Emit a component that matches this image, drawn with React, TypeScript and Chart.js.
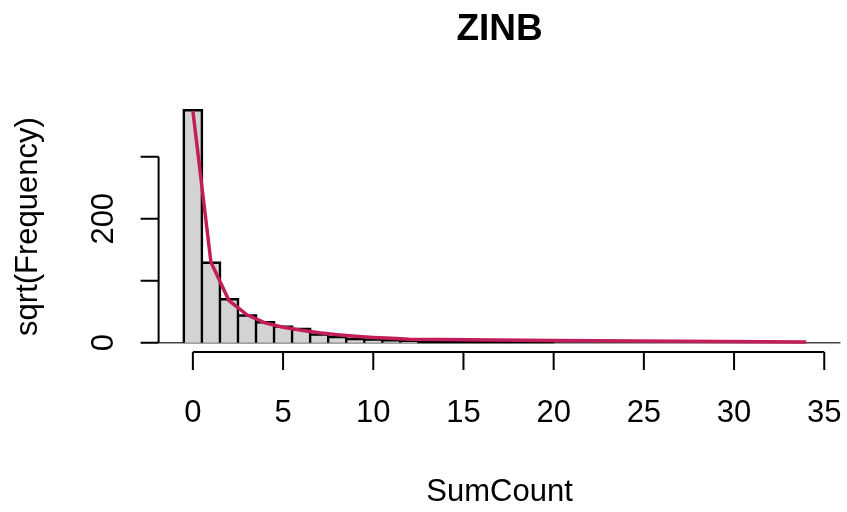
import React, { useEffect, useRef } from 'react';
import { Chart, registerables } from 'chart.js';

Chart.register(...registerables);

// Histogram bins of sqrt(frequency): edges and heights
const binEdges = [-0.5, 0.5, 1.5, 2.5, 3.5, 4.5, 5.5, 6.5, 7.5, 8.5, 9.5, 10.5, 11.5, 12.5, 20];
const binHeights = [375, 129, 70, 44, 33, 26, 22, 13, 9, 6, 5, 4, 3, 1];

// Fitted ZINB curve (sqrt scale)
const fitX = [0, 1, 2, 3, 4, 5, 6, 7, 8, 9, 10, 11, 12, 20, 34];
const fitY = [374, 130, 68, 45, 32, 25, 20, 16, 13, 10.5, 8.5, 7, 5.5, 3.5, 1];

// Axis ticks
const xTicks = [0, 5, 10, 15, 20, 25, 30, 35];
const yTicks = [0, 100, 200, 300];
const yTickLabels = ['0', '', '200', ''];

const mainTitle = 'ZINB';
const xTitle = 'SumCount';
const yTitle = 'sqrt(Frequency)';

const FONT = '"Liberation Sans", Arial, Helvetica, sans-serif';

function histOutline() {
  const pts: { x: number; y: number }[] = [];
  binHeights.forEach((h, i) => {
    const l = binEdges[i];
    const r = binEdges[i + 1];
    pts.push({ x: l, y: 0 }, { x: l, y: h }, { x: r, y: h }, { x: r, y: 0 });
  });
  return pts;
}

const baseAxes = {
  id: 'baseAxes',
  beforeDatasetsDraw(chart: any) {
    const { ctx, chartArea, scales } = chart;
    const y0 = scales.y.getPixelForValue(0);
    ctx.save();
    ctx.strokeStyle = '#444';
    ctx.lineWidth = 1.5;
    ctx.beginPath();
    ctx.moveTo(chartArea.left, y0);
    ctx.lineTo(chartArea.right, y0);
    ctx.stroke();
    ctx.restore();
  },
  afterDraw(chart: any) {
    const { ctx, chartArea, scales } = chart;
    const xs = scales.x;
    const ys = scales.y;
    const tick = 18;
    ctx.save();
    ctx.strokeStyle = '#000';
    ctx.fillStyle = '#000';
    ctx.lineWidth = 2;

    // x axis
    const ax = chartArea.bottom;
    ctx.beginPath();
    ctx.moveTo(xs.getPixelForValue(xTicks[0]), ax);
    ctx.lineTo(xs.getPixelForValue(xTicks[xTicks.length - 1]), ax);
    xTicks.forEach((t) => {
      const px = xs.getPixelForValue(t);
      ctx.moveTo(px, ax);
      ctx.lineTo(px, ax + tick);
    });
    ctx.stroke();
    ctx.font = `31px ${FONT}`;
    ctx.textAlign = 'center';
    ctx.textBaseline = 'alphabetic';
    xTicks.forEach((t) => {
      ctx.fillText(String(t), xs.getPixelForValue(t), 422);
    });

    // y axis
    const ay = chartArea.left;
    ctx.beginPath();
    ctx.moveTo(ay, ys.getPixelForValue(yTicks[0]));
    ctx.lineTo(ay, ys.getPixelForValue(yTicks[yTicks.length - 1]));
    yTicks.forEach((t) => {
      const py = ys.getPixelForValue(t);
      ctx.moveTo(ay, py);
      ctx.lineTo(ay - tick, py);
    });
    ctx.stroke();
    yTicks.forEach((t, i) => {
      const lab = yTickLabels[i];
      if (!lab) return;
      ctx.save();
      ctx.translate(113, ys.getPixelForValue(t));
      ctx.rotate(-Math.PI / 2);
      ctx.fillText(lab, 0, 0);
      ctx.restore();
    });

    // axis titles
    const cx = (chartArea.left + chartArea.right) / 2;
    const cy = (chartArea.top + chartArea.bottom) / 2;
    ctx.fillText(xTitle, cx, 501);
    ctx.save();
    ctx.translate(37, cy);
    ctx.rotate(-Math.PI / 2);
    ctx.fillText(yTitle, 0, 0);
    ctx.restore();

    // main title
    ctx.font = `bold 37px ${FONT}`;
    ctx.fillText(mainTitle, cx, 40);
    ctx.restore();
  },
};

export default function App() {
  const ref = useRef<HTMLCanvasElement | null>(null);

  useEffect(() => {
    if (!ref.current) return;
    const chart = new Chart(ref.current, {
      type: 'scatter',
      data: {
        datasets: [
          {
            label: 'fitted',
            data: fitX.map((x, i) => ({ x, y: fitY[i] })),
            showLine: true,
            borderColor: '#C41E5A',
            borderWidth: 3.5,
            pointRadius: 0,
            fill: false,
            order: 1,
          },
          {
            label: 'observed',
            data: histOutline(),
            showLine: true,
            borderColor: '#000',
            borderWidth: 2.4,
            backgroundColor: '#D3D3D3',
            pointRadius: 0,
            fill: 'origin',
            order: 2,
          },
        ],
      },
      options: {
        responsive: false,
        animation: false,
        layout: { padding: { left: 158.6, right: 6.5, top: 101, bottom: 160 } },
        plugins: {
          legend: { display: false },
          tooltip: { enabled: false },
          title: { display: false },
        },
        scales: {
          x: { type: 'linear', display: false, min: -1.9, max: 35.9 },
          y: { type: 'linear', display: false, min: -15, max: 390 },
        },
      },
      plugins: [baseAxes],
    });
    return () => chart.destroy();
  }, []);

  return (
    <div style={{ position: 'fixed', left: 0, top: 0, width: 847, height: 512, background: '#fff' }}>
      <canvas ref={ref} width={847} height={512} />
    </div>
  );
}
